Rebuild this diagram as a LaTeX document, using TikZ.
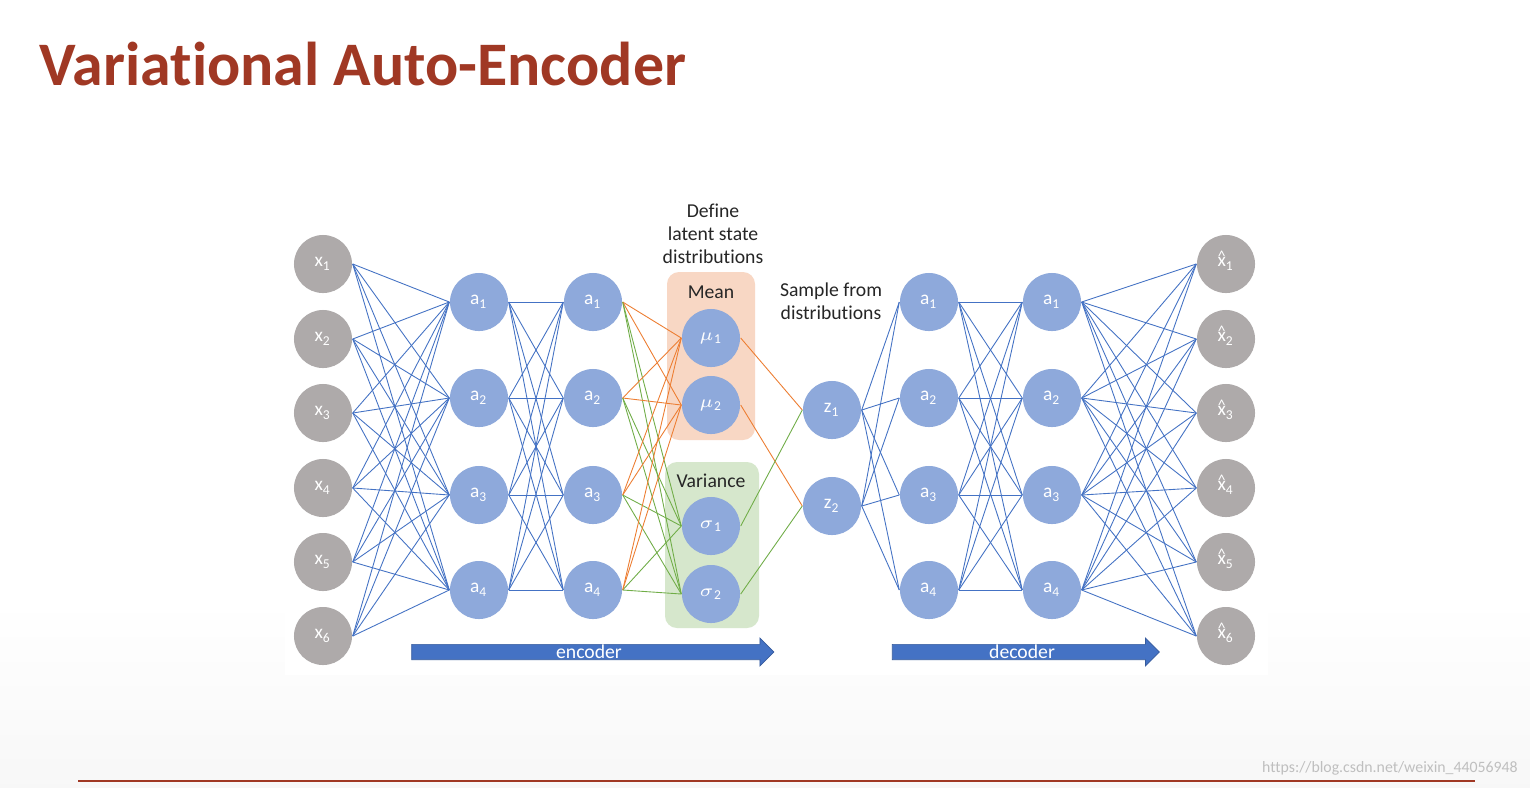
\documentclass[tikz,border=0pt]{standalone}
\usepackage{fontspec}
\setmainfont{Carlito}[Ligatures=NoCommon]
\usetikzlibrary{shapes.arrows}
\definecolor{nodeblue}{RGB}{142,169,219}
\definecolor{nodegray}{RGB}{174,170,170}
\definecolor{lineblue}{RGB}{68,114,196}
\definecolor{lorange}{RGB}{237,125,49}
\definecolor{lgreen}{RGB}{112,173,71}
\definecolor{meanbg}{RGB}{248,215,196}
\definecolor{varbg}{RGB}{214,231,204}
\definecolor{titlec}{RGB}{160,56,36}
\newcommand{\xhat}{\ooalign{x\cr\hidewidth\raisebox{0.62ex}{\scalebox{0.8}{\textasciicircum}}\hidewidth\cr}}
\tikzset{
  neuron/.style={circle,minimum size=0.58cm,inner sep=0pt,text=white,font=\fontsize{5.5}{6}\selectfont},
  bl/.style={fill=nodeblue},
  gr/.style={fill=nodegray},
  conn/.style={draw=lineblue,line width=0.25pt},
  oconn/.style={draw=lorange,line width=0.25pt},
  gconn/.style={draw=lgreen,line width=0.25pt},
  lab/.style={font=\fontsize{5.6}{6.6}\selectfont,align=center,text=black!85},
  bigarrow/.style={single arrow,fill=lineblue,draw=lineblue!80!black,line width=0.2pt,minimum height=#1,minimum width=0.28cm,single arrow head extend=0.06cm,inner sep=0pt,text=white,font=\fontsize{5.6}{6}\selectfont}
}
\begin{document}
\begin{tikzpicture}[x=0.01cm,y=-0.01cm]
\useasboundingbox[fill=white] (0,0) rectangle (1530,787);
\shade[top color=white,bottom color=black!3] (0,600) rectangle (1530,787);
\fill[white] (285,190) rectangle (1268,675);
\node[anchor=base west,text=titlec,font=\fontsize{17.6}{20}\selectfont\bfseries,inner sep=0] (title) at (39,85) {Variational Auto-Encoder};
\draw[titlec,line width=0.4pt] (78,781) -- (1475,781);
\node[anchor=south east,text=black!25,font=\fontsize{4.5}{5}\selectfont,inner sep=1pt] (wm) at (1522,779) {https://blog.csdn.net/weixin\_44056948};
% boxes
\fill[meanbg,rounded corners=0.12cm] (667,272) rectangle (755,440);
\fill[varbg,rounded corners=0.12cm] (665,462) rectangle (759,628);
\node[lab] (meanl) at (711,292) {Mean};
\node[lab] (varl) at (711,481) {Variance};
\node[lab] (define) at (713,234) {Define\\latent state\\distributions};
\node[lab] (sample) at (831,301) {Sample from\\distributions};
% nodes
\foreach \i/\y in {1/264,2/339,3/413,4/488,5/562,6/636}{
  \node[neuron,gr] (x\i) at (323,\y) {x\textsubscript{\i}};
  \node[neuron,gr] (h\i) at (1226,\y) {\xhat\textsubscript{\i}};
}
\foreach \i/\y in {1/302,2/398,3/495,4/590}{
  \node[neuron,bl] (e\i) at (479,\y) {a\textsubscript{\i}};
  \node[neuron,bl] (f\i) at (593,\y) {a\textsubscript{\i}};
  \node[neuron,bl] (d\i) at (929,\y) {a\textsubscript{\i}};
  \node[neuron,bl] (g\i) at (1052,\y) {a\textsubscript{\i}};
}
\node[neuron,bl] (m1) at (711,338) {$\mu$\textsubscript{1}};
\node[neuron,bl] (m2) at (711,405) {$\mu$\textsubscript{2}};
\node[neuron,bl] (s1) at (711,526) {$\sigma$\textsubscript{1}};
\node[neuron,bl] (s2) at (711,594) {$\sigma$\textsubscript{2}};
\node[neuron,bl] (z1) at (832,410) {z\textsubscript{1}};
\node[neuron,bl] (z2) at (832,506) {z\textsubscript{2}};
% connections
\foreach \i in {1,...,6}{\foreach \j in {1,...,4}{
  \draw[conn] (x\i.east) -- (e\j.west);
  \draw[conn] (g\j.east) -- (h\i.west);
}}
\foreach \i in {1,...,4}{\foreach \j in {1,...,4}{
  \draw[conn] (e\i.east) -- (f\j.west);
  \draw[conn] (d\i.east) -- (g\j.west);
}}
\foreach \i in {1,...,4}{
  \foreach \j in {1,2}{
    \draw[oconn] (f\i.east) -- (m\j.west);
    \draw[gconn] (f\i.east) -- (s\j.west);
    \draw[conn] (z\j.east) -- (d\i.west);
  }
}
\draw[oconn] (m1.east) -- (z1.west);
\draw[oconn] (m2.east) -- (z2.west);
\draw[gconn] (s1.east) -- (z1.west);
\draw[gconn] (s2.east) -- (z2.west);
% arrows
\node[bigarrow=3.62cm] (enc) at (589,652) {encoder};
\node[bigarrow=2.67cm] (dec) at (1022,652) {decoder};
\end{tikzpicture}
\end{document}
